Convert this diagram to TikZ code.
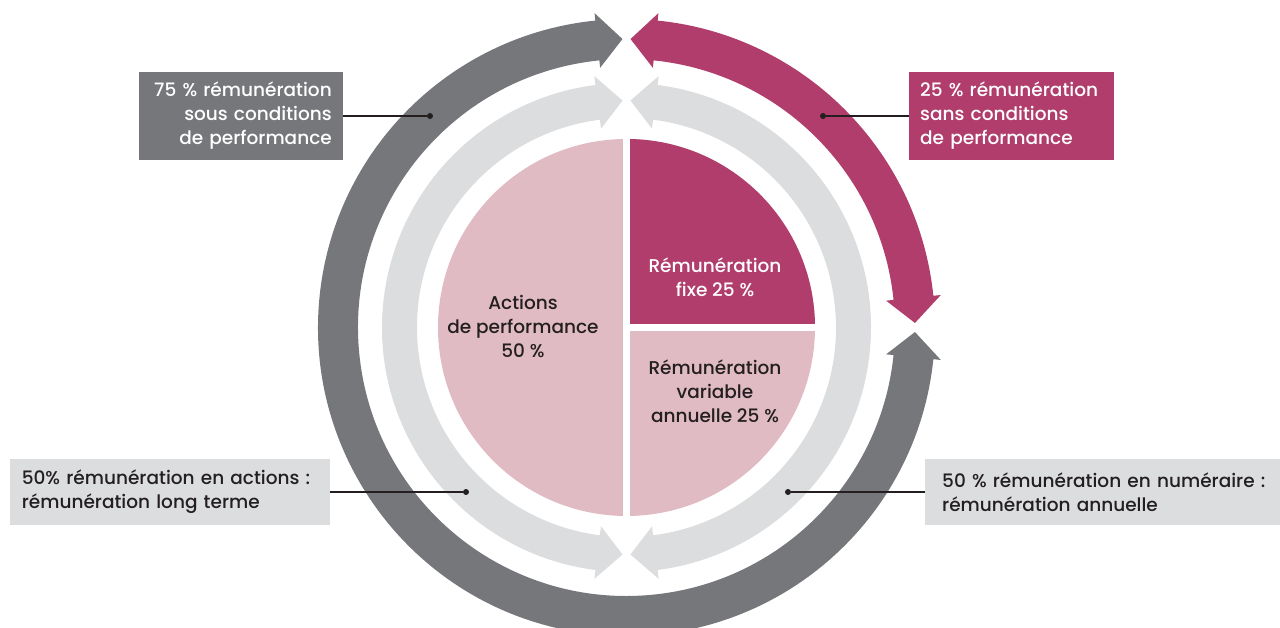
\documentclass[tikz,border=0pt]{standalone}
\usepackage{fontspec}
\setmainfont{Poppins}[UprightFont=* Medium]
\definecolor{ringgrey}{HTML}{76777B}
\definecolor{ringpink}{HTML}{B13D6C}
\definecolor{ringlight}{HTML}{DCDDDF}
\definecolor{pielight}{HTML}{E1BBC4}
\definecolor{textdark}{HTML}{231F20}
% filled ring arrow with a head at both ends:
% colour, radius, half width, head half width, start angle, end angle, head angle
\newcommand{\ringarrow}[7]{%
  \pgfmathsetmacro{\ringin}{#2-#3}\pgfmathsetmacro{\ringout}{#2+#3}%
  \pgfmathsetmacro{\headin}{#2-#4}\pgfmathsetmacro{\headout}{#2+#4}%
  \pgfmathsetmacro{\angA}{#5+#7}\pgfmathsetmacro{\angB}{#6-#7}%
  \fill[#1] (#5:#2) -- (\angA:\headin) -- (\angA:\ringin)
    arc[start angle=\angA,end angle=\angB,radius=\ringin]
    -- (\angB:\headin) -- (#6:#2) -- (\angB:\headout) -- (\angB:\ringout)
    arc[start angle=\angB,end angle=\angA,radius=\ringout]
    -- (\angA:\headout) -- cycle;}
\tikzset{
  label box/.style={inner xsep=11,inner ysep=0,minimum height=88,font=\fontsize{18.5}{24}\selectfont},
  pie text/.style={align=center,font=\fontsize{18.5}{24}\selectfont},
  pin dot/.style={circle,fill=textdark,inner sep=0,minimum size=6},
  pin line/.style={textdark,line width=1.4}
}
\begin{document}
\begin{tikzpicture}[x=1pt,y=1pt]
\useasboundingbox (-626.5,-300.5) rectangle (653.5,327.5);
% pie
\fill[pielight] (0,0) circle[radius=188.5];
\fill[ringpink] (0,0) -- (188.5,0) arc[start angle=0,end angle=90,radius=188.5] -- cycle;
\draw[white,line width=7] (0,-190) -- (0,190);
\draw[white,line width=7] (0,0) -- (190,0);
% rings
\ringarrow{ringlight}{227}{17.5}{26.5}{91}{269}{6.3}
\ringarrow{ringlight}{227}{17.5}{26.5}{-89}{89}{6.3}
\ringarrow{ringgrey}{288.5}{20}{27.5}{90.8}{359.1}{5}
\ringarrow{ringpink}{288.5}{20}{27.5}{0.9}{89.2}{5}
% texts in the pie
\node[pie text,text=textdark] (actions) at (-103.5,0.5) {Actions\\de performance\\50 \%};
\node[pie text,text=white] (fixe) at (88.5,50.5) {Rémunération\\fixe 25 \%};
\node[pie text,text=textdark] (variable) at (88.5,-63.5) {Rémunération\\variable\\annuelle 25 \%};
% labels
\node[pin dot] (dsous) at (-196.5,211.5) {};
\node[pin dot] (dsans) at (196.5,211.5) {};
\node[pin dot] (dactions) at (-160.5,-164.5) {};
\node[pin dot] (dnum) at (161.5,-164.5) {};
\node[label box,fill=ringgrey,text=white,anchor=east,text width=182,align=right]
  (sous) at (-283.5,211.5) {75 \% rémunération\\sous conditions\\de performance};
\node[label box,fill=ringpink,text=white,anchor=west,text width=183,align=left]
  (sans) at (282.5,211.5) {25 \% rémunération\\sans conditions\\de performance};
\node[label box,fill=ringlight,text=textdark,anchor=east,minimum height=66,
  inner xsep=12,text width=296,align=left]
  (longterme) at (-296.5,-164.5) {50\% rémunération en actions~:\\rémunération long terme};
\node[label box,fill=ringlight,text=textdark,anchor=west,minimum height=66,
  inner xsep=17,text width=345,align=left]
  (annuelle) at (298.5,-164.5) {50 \% rémunération en numéraire~:\\rémunération annuelle};
\draw[pin line] (sous.east) -- (dsous);
\draw[pin line] (sans.west) -- (dsans);
\draw[pin line] (longterme.east) -- (dactions);
\draw[pin line] (annuelle.west) -- (dnum);
\end{tikzpicture}
\end{document}
